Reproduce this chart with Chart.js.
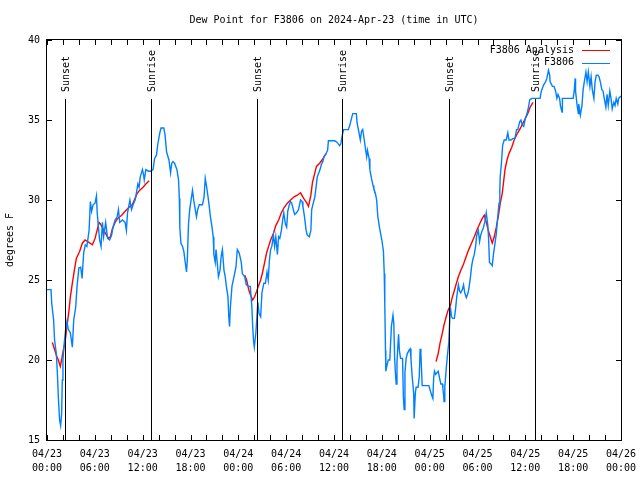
<!DOCTYPE html>
<html>
<head>
<meta charset="utf-8">
<script src="https://cdn.jsdelivr.net/npm/chart.js@4.4.1/dist/chart.umd.min.js"></script>
<style>
  html, body { margin: 0; padding: 0; background: #fff; }
</style>
</head>
<body>
<canvas id="dew" width="640" height="480"></canvas>
<script>
// hours since 04/23 00:00 UTC
const obsHours = [
  0.0, 0.5, 0.6, 0.83, 0.95, 1.17, 1.3, 1.42, 1.58, 1.71, 1.83, 1.92, 2.0, 2.17, 2.34, 2.5, 2.68, 2.93, 3.18, 3.35,
  3.6, 3.77, 4.0, 4.23, 4.4, 4.6, 4.8, 5.0, 5.28, 5.44, 5.6, 5.78, 6.03, 6.2, 6.3, 6.45, 6.6, 6.78, 6.95, 7.1,
  7.36, 7.6, 7.86, 8.1, 8.29, 8.54, 8.8, 8.96, 9.12, 9.46, 9.8, 9.96, 10.1, 10.4, 10.6, 10.8, 11.05, 11.2, 11.4, 11.55,
  11.7, 11.97, 12.1, 12.2, 12.4, 12.73, 13.0, 13.3, 13.5, 13.73, 13.9, 14.15, 14.3, 14.65, 14.8, 15.0, 15.3, 15.5, 15.65, 15.8,
  16.0, 16.15, 16.3, 16.5, 16.6, 16.66, 16.8, 17.0, 17.16, 17.3, 17.5, 17.6, 17.75, 17.9, 18.1, 18.25, 18.4, 18.6, 18.75, 18.9,
  19.1, 19.5, 19.7, 19.85, 20.0, 20.2, 20.35, 20.5, 20.7, 20.85, 20.93, 21.1, 21.2, 21.35, 21.5, 21.7, 21.85, 22.0, 22.2, 22.36,
  22.5, 22.7, 22.8, 22.9, 23.0, 23.2, 23.45, 23.7, 23.87, 24.1, 24.37, 24.5, 24.8, 25.0, 25.3, 25.5, 25.7, 25.8, 25.9, 26.0,
  26.2, 26.33, 26.45, 26.6, 26.8, 26.96, 27.2, 27.4, 27.6, 27.75, 27.9, 28.05, 28.2, 28.4, 28.55, 28.7, 28.9, 29.05, 29.2, 29.4,
  29.56, 29.7, 29.9, 30.06, 30.2, 30.4, 30.56, 30.7, 30.9, 31.06, 31.3, 31.55, 31.8, 32.0, 32.1, 32.3, 32.5, 32.65, 32.9, 33.1,
  33.2, 33.4, 33.6, 33.75, 33.9, 34.1, 34.25, 34.4, 34.6, 34.75, 34.9, 35.2, 35.3, 35.7, 36.1, 36.4, 36.7, 36.85, 37.0, 37.2,
  37.8, 38.0, 38.2, 38.35, 38.8, 38.9, 39.1, 39.3, 39.45, 39.6, 39.8, 39.95, 40.1, 40.2, 40.4, 40.5, 40.7, 40.9, 41.0, 41.2,
  41.35, 41.5, 41.7, 41.85, 42.0, 42.2, 42.3, 42.37, 42.46, 42.5, 42.66, 42.8, 43.0, 43.2, 43.4, 43.5, 43.6, 43.7, 43.8, 43.9,
  44.0, 44.1, 44.2, 44.35, 44.6, 44.7, 44.8, 44.9, 45.05, 45.2, 45.4, 45.55, 45.65, 45.8, 46.0, 46.05, 46.2, 46.3, 46.55, 46.7,
  46.8, 46.9, 47.06, 47.9, 48.07, 48.25, 48.4, 48.5, 48.6, 48.75, 48.9, 49.07, 49.25, 49.4, 49.6, 49.66, 49.75, 49.8, 49.9, 50.1,
  50.25, 50.4, 50.5, 50.6, 50.75, 50.9, 51.1, 51.25, 51.4, 51.6, 51.76, 51.9, 52.1, 52.25, 52.4, 52.6, 52.76, 52.9, 53.1, 53.25,
  53.4, 53.6, 53.76, 53.9, 54.1, 54.26, 54.4, 54.6, 54.7, 54.9, 55.1, 55.3, 55.4, 55.5, 55.7, 55.85, 56.0, 56.2, 56.36, 56.5,
  56.7, 56.8, 56.85, 57.0, 57.15, 57.35, 57.6, 57.8, 57.95, 58.2, 58.45, 58.7, 58.9, 59.05, 59.3, 59.45, 59.6, 59.8, 59.96, 60.2,
  60.4, 60.55, 60.8, 61.1, 61.85, 62.0, 62.3, 62.55, 62.7, 62.9, 63.06, 63.1, 63.4, 63.6, 63.8, 63.96, 64.1, 64.3, 64.4, 64.6,
  64.65, 66.0, 66.15, 66.25, 66.3, 66.5, 66.65, 66.7, 66.9, 67.1, 67.25, 67.4, 67.6, 67.75, 67.9, 68.1, 68.25, 68.4, 68.6, 68.75,
  68.9, 69.1, 69.25, 69.4, 69.6, 69.75, 69.9, 70.1, 70.25, 70.4, 70.6, 70.75, 70.9, 71.1, 71.25, 71.4, 71.6, 71.7, 72.0
];
const obsValues = [
  24.4, 24.4, 23.5, 22.5, 21.25, 20.4, 19.2, 17.7, 16.25, 15.9, 16.6, 18.75, 20, 21.1, 21.9, 22.4, 21.9, 21.7, 20.8, 22.5,
  23.3, 24.6, 25.75, 25.8, 25.1, 26.7, 27.2, 27.1, 28.1, 29.9, 29.3, 29.7, 29.8, 30.25, 29.2, 28.3, 27.5, 27.1, 28.6, 27.7,
  28.6, 27.6, 27.5, 27.8, 28.3, 28.75, 28.95, 29.4, 28.6, 28.75, 28.6, 28.1, 29.2, 30, 29.4, 29.7, 30, 30.4, 31.0, 30.8,
  31.45, 31.9, 31.6, 31.25, 31.9, 31.8, 31.8, 31.9, 32.6, 32.8, 33.5, 34.2, 34.5, 34.5, 34.1, 33, 32.5, 31.7, 32.3, 32.4,
  32.3, 32.1, 31.9, 31.25, 30.1, 28.3, 27.3, 27.1, 26.8, 26.25, 25.5, 26.25, 28.5, 29.4, 30.1, 30.6, 30, 29.4, 28.95, 29.4,
  29.7, 29.7, 30.2, 31.35, 30.9, 30.2, 29.6, 28.95, 28.3, 27.7, 26.6, 26.1, 26.9, 26.1, 25.2, 25.6, 26.5, 26.9, 25.6, 25.2,
  24.6, 23.95, 22.7, 22.1, 23.3, 24.6, 25.2, 25.8, 26.9, 26.7, 26.1, 25.4, 25.2, 24.7, 24.6, 24.6, 23.3, 22.1, 21.25, 20.8,
  21.7, 22.7, 23.6, 22.9, 22.7, 24.2, 24.8, 24.8, 25.5, 25, 26.25, 26.9, 27.1, 27.8, 27.1, 27.7, 26.6, 27.7, 27.6, 28.1,
  28.75, 29.2, 28.5, 28.3, 29.3, 29.7, 29.9, 29.8, 29.4, 29.1, 29.2, 29.4, 30, 29.9, 29.6, 28.95, 28.1, 27.8, 27.7, 28.1,
  29.4, 29.8, 30.2, 30.8, 31.45, 31.7, 31.9, 32.2, 32.4, 32.7, 32.8, 33.1, 33.7, 33.7, 33.7, 33.6, 33.4, 33.5, 33.95, 34.4,
  34.4, 34.7, 35.1, 35.4, 35.4, 34.8, 34.3, 33.75, 34.3, 34.4, 33.75, 33.2, 32.7, 33.1, 32.6, 31.9, 31.35, 30.9, 30.7, 30.4,
  30.0, 28.95, 28.3, 27.9, 27.5, 26.8, 25.4, 23.5, 20.6, 19.3, 19.7, 20.0, 20.0, 22.1, 22.8, 22.3, 20.2, 19.2, 18.5, 19.8,
  20.8, 21.6, 20.6, 20.1, 20.1, 17.7, 16.9, 19.2, 20.1, 20.4, 20.6, 20.7, 20.1, 19.0, 17.9, 16.35, 17.9, 18.3, 18.3, 19.0,
  20.7, 20.4, 18.4, 18.4, 18.1, 17.8, 17.6, 18.85, 19.3, 19.1, 19.2, 19.3, 18.85, 18.5, 18.5, 18.2, 17.8, 17.4, 18.3, 19.6,
  20.4, 21.1, 22.3, 23.3, 22.7, 22.6, 22.6, 23.2, 23.95, 24.7, 24.3, 24.2, 24.4, 24.7, 24.2, 23.9, 24.1, 24.4, 25.1, 25.8,
  26.25, 26.6, 27.1, 27.8, 28.1, 27.4, 27.8, 28.1, 28.2, 28.6, 29.2, 28.4, 27.5, 26.1, 26.0, 25.9, 26.6, 27.3, 27.9, 28.75,
  29.8, 30.6, 31.45, 32.3, 33.4, 33.75, 33.75, 34.2, 33.75, 33.75, 33.85, 33.85, 34.4, 34.4, 34.9, 35.0, 34.7, 34.6, 35.0, 35.4,
  35.8, 36.25, 36.35, 36.35, 36.35, 36.8, 37.2, 37.4, 37.6, 38.1, 37.8, 37.4, 37.1, 37.1, 36.8, 36.35, 36.6, 36.35, 35.9, 35.5,
  36.35, 36.35, 36.9, 37.6, 36.8, 35.9, 35.4, 36.0, 35.3, 35.9, 36.9, 37.4, 38.0, 37.4, 38.0, 37.1, 37.7, 36.9, 36.35, 37.4,
  37.8, 37.8, 37.7, 37.4, 36.9, 36.8, 36.35, 35.8, 36.6, 35.9, 36.8, 36.35, 35.7, 36.1, 35.9, 36.35, 36.0, 36.35, 36.5
];

// analysis series, null = gap between runs
const fitHours = [
  0.67, 0.92, 1.17, 1.42, 1.67, 1.83, 2.0, 2.26, 2.5, 2.76, 2.93, 3.18, 3.43, 3.68, 4.1, 4.43, 4.77, 5.1, 5.7, 6.03,
  6.28, 6.53, 6.7, 7.03, 7.36, 7.7, 7.95, 8.2, 8.54, 8.87, 9.37, 9.8, 10.2, 10.7, 11.05, 11.3, 11.6, 12.05, 12.4, 12.8,
  18,
  24.8, 25.04, 25.3, 25.5, 25.8, 26.04, 26.3, 26.5, 26.8, 27.05, 27.3, 27.55, 27.8, 28.05, 28.4, 28.7, 29.06, 29.4, 29.7, 30.15,
  30.56, 31.0, 31.4, 31.8, 32.2, 32.6, 32.8, 33.1, 33.3, 33.6, 33.8, 34.2, 34.5, 34.8, 35.0,
  42,
  48.8, 49.07, 49.3, 49.6, 49.8, 50.07, 50.3, 50.6, 50.8, 51.07, 51.3, 51.6, 51.9, 52.25, 52.6, 52.9, 53.25, 53.6, 53.9, 54.26,
  54.6, 54.85, 55.1, 55.35, 55.6, 55.85, 56.1, 56.36, 56.6, 56.86, 57.1, 57.45, 57.7, 57.95, 58.3, 58.6, 59.05, 59.5, 59.9, 60.3,
  60.6, 60.96
];
const fitValues = [
  21.1, 20.7, 20.3, 20.0, 19.6, 20, 20.5, 21.1, 22.1, 23.1, 23.95, 24.8, 25.6, 26.35, 26.8, 27.3, 27.5, 27.4, 27.2, 27.6,
  28.1, 28.6, 28.5, 28.2, 27.9, 27.6, 27.7, 28.2, 28.6, 28.85, 29.05, 29.3, 29.5, 29.7, 30.1, 30.4, 30.6, 30.8, 31.0, 31.2,
  null,
  25.3, 25, 24.4, 24.1, 23.75, 23.95, 24.3, 24.6, 25, 25.5, 26.1, 26.7, 27.1, 27.5, 27.9, 28.4, 28.75, 29.2, 29.5, 29.8,
  30, 30.2, 30.3, 30.45, 30.1, 29.8, 29.6, 30.3, 31.1, 31.7, 32.1, 32.3, 32.5, 32.75, 32.9,
  null,
  19.9, 20.4, 21.05, 21.7, 22.2, 22.7, 23.1, 23.4, 23.85, 24.3, 24.7, 25.2, 25.6, 26.0, 26.5, 26.9, 27.3, 27.7, 28.1, 28.5,
  28.85, 29.05, 28.6, 28.1, 27.7, 27.3, 27.7, 28.3, 28.95, 29.8, 30.4, 31.9, 32.5, 32.9, 33.3, 33.75, 34.2, 34.6, 35.0, 35.4,
  35.8, 36.1
];

const eventHours = [2.21, 13.02, 26.33, 37.01, 50.45, 61.18];
const eventNames = ['Sunset', 'Sunrise', 'Sunset', 'Sunrise', 'Sunset', 'Sunrise'];

const xTickHours = [0, 2, 4, 6, 8, 10, 12, 14, 16, 18, 20, 22, 24, 26, 28, 30, 32, 34, 36,
  38, 40, 42, 44, 46, 48, 50, 52, 54, 56, 58, 60, 62, 64, 66, 68, 70, 72];
const xLabelHours = [0, 6, 12, 18, 24, 30, 36, 42, 48, 54, 60, 66, 72];
const xLabelDates = ['04/23', '04/23', '04/23', '04/23', '04/24', '04/24', '04/24', '04/24',
  '04/25', '04/25', '04/25', '04/25', '04/26'];
const xLabelTimes = ['00:00', '06:00', '12:00', '18:00', '00:00', '06:00', '12:00', '18:00',
  '00:00', '06:00', '12:00', '18:00', '00:00'];
const yTicks = [15, 20, 25, 30, 35, 40];

const FONT = '"DejaVu Sans Mono", monospace';
const OBS_COLOR = 'rgb(0,128,255)';
const FIT_COLOR = 'rgb(255,0,0)';

// box, inward ticks, sunrise/sunset markers, title and legend, gnuplot style
const decorations = {
  id: 'decorations',
  afterDatasetsDraw(chart) {
    const ctx = chart.ctx;
    const area = chart.chartArea;
    const xs = chart.scales.x;
    const ys = chart.scales.y;
    ctx.save();
    ctx.strokeStyle = '#000';
    ctx.lineWidth = 1;

    // sunrise / sunset lines
    const lineTop = Math.round(ys.getPixelForValue(36.3));
    ctx.font = '10px ' + FONT;
    ctx.fillStyle = '#000';
    eventHours.forEach((h, i) => {
      const px = Math.round(xs.getPixelForValue(h)) + 0.5;
      ctx.beginPath();
      ctx.moveTo(px, lineTop);
      ctx.lineTo(px, area.bottom);
      ctx.stroke();
      ctx.save();
      ctx.translate(px + 1, lineTop - 7);
      ctx.rotate(-Math.PI / 2);
      ctx.textAlign = 'left';
      ctx.textBaseline = 'middle';
      ctx.fillText(eventNames[i], 0, 0);
      ctx.restore();
    });

    // frame
    ctx.strokeRect(area.left - 0.5, area.top - 0.5, area.right - area.left + 1, area.bottom - area.top + 1);

    // tick marks pointing into the plot
    ctx.beginPath();
    xTickHours.forEach((h) => {
      const px = Math.round(xs.getPixelForValue(h)) + 0.5;
      ctx.moveTo(px, area.bottom);
      ctx.lineTo(px, area.bottom - 5);
      ctx.moveTo(px, area.top);
      ctx.lineTo(px, area.top + 5);
    });
    yTicks.forEach((v) => {
      const py = Math.round(ys.getPixelForValue(v)) + 0.5;
      ctx.moveTo(area.left, py);
      ctx.lineTo(area.left + 5, py);
      ctx.moveTo(area.right, py);
      ctx.lineTo(area.right - 5, py);
    });
    ctx.stroke();

    // title
    ctx.textAlign = 'center';
    ctx.textBaseline = 'middle';
    ctx.fillText('Dew Point for F3806 on 2024-Apr-23 (time in UTC)', (area.left + area.right) / 2, 20);

    // legend
    const legend = [['F3806 Analysis', FIT_COLOR], ['F3806', OBS_COLOR]];
    legend.forEach((item, i) => {
      const y = 50 + i * 12.5;
      ctx.fillStyle = '#000';
      ctx.textAlign = 'right';
      ctx.fillText(item[0], 574, y);
      ctx.strokeStyle = item[1];
      ctx.beginPath();
      ctx.moveTo(582, Math.round(y) + 0.5);
      ctx.lineTo(610, Math.round(y) + 0.5);
      ctx.stroke();
    });
    ctx.restore();
  }
};

new Chart(document.getElementById('dew'), {
  type: 'line',
  data: {
    datasets: [
      {
        label: 'F3806',
        data: obsHours.map((h, i) => ({ x: h, y: obsValues[i] })),
        borderColor: OBS_COLOR,
        borderWidth: 1.4,
        pointRadius: 0,
        tension: 0
      },
      {
        label: 'F3806 Analysis',
        data: fitHours.map((h, i) => ({ x: h, y: fitValues[i] })),
        borderColor: FIT_COLOR,
        borderWidth: 1.4,
        pointRadius: 0,
        tension: 0,
        spanGaps: false
      }
    ]
  },
  options: {
    responsive: false,
    animation: false,
    devicePixelRatio: 1,
    layout: { padding: { top: 40, right: 19, left: 0, bottom: 0 } },
    plugins: {
      legend: { display: false },
      title: { display: false },
      tooltip: { enabled: false }
    },
    scales: {
      x: {
        type: 'linear',
        min: 0,
        max: 72,
        afterBuildTicks: (scale) => { scale.ticks = xTickHours.map((v) => ({ value: v })); },
        afterFit: (scale) => {
          scale.height = 40;
          scale.paddingLeft = 0;
          scale.paddingRight = 0;
        },
        grid: { display: false, drawTicks: false },
        border: { display: false },
        ticks: {
          autoSkip: false,
          maxRotation: 0,
          padding: 8,
          color: '#000',
          font: { family: FONT, size: 10, lineHeight: 1.35 },
          callback: (value) => {
            const i = xLabelHours.indexOf(value);
            return i < 0 ? '' : [xLabelDates[i], xLabelTimes[i]];
          }
        }
      },
      y: {
        min: 15,
        max: 40,
        afterBuildTicks: (scale) => { scale.ticks = yTicks.map((v) => ({ value: v })); },
        afterFit: (scale) => {
          scale.width = 47;
          scale.paddingTop = 0;
          scale.paddingBottom = 0;
        },
        grid: { display: false, drawTicks: false },
        border: { display: false },
        title: {
          display: true,
          text: 'degrees F',
          color: '#000',
          font: { family: FONT, size: 10 },
          padding: { top: 4, bottom: 0 }
        },
        ticks: {
          padding: 7,
          color: '#000',
          font: { family: FONT, size: 10 }
        }
      }
    }
  },
  plugins: [decorations]
});
</script>
</body>
</html>
